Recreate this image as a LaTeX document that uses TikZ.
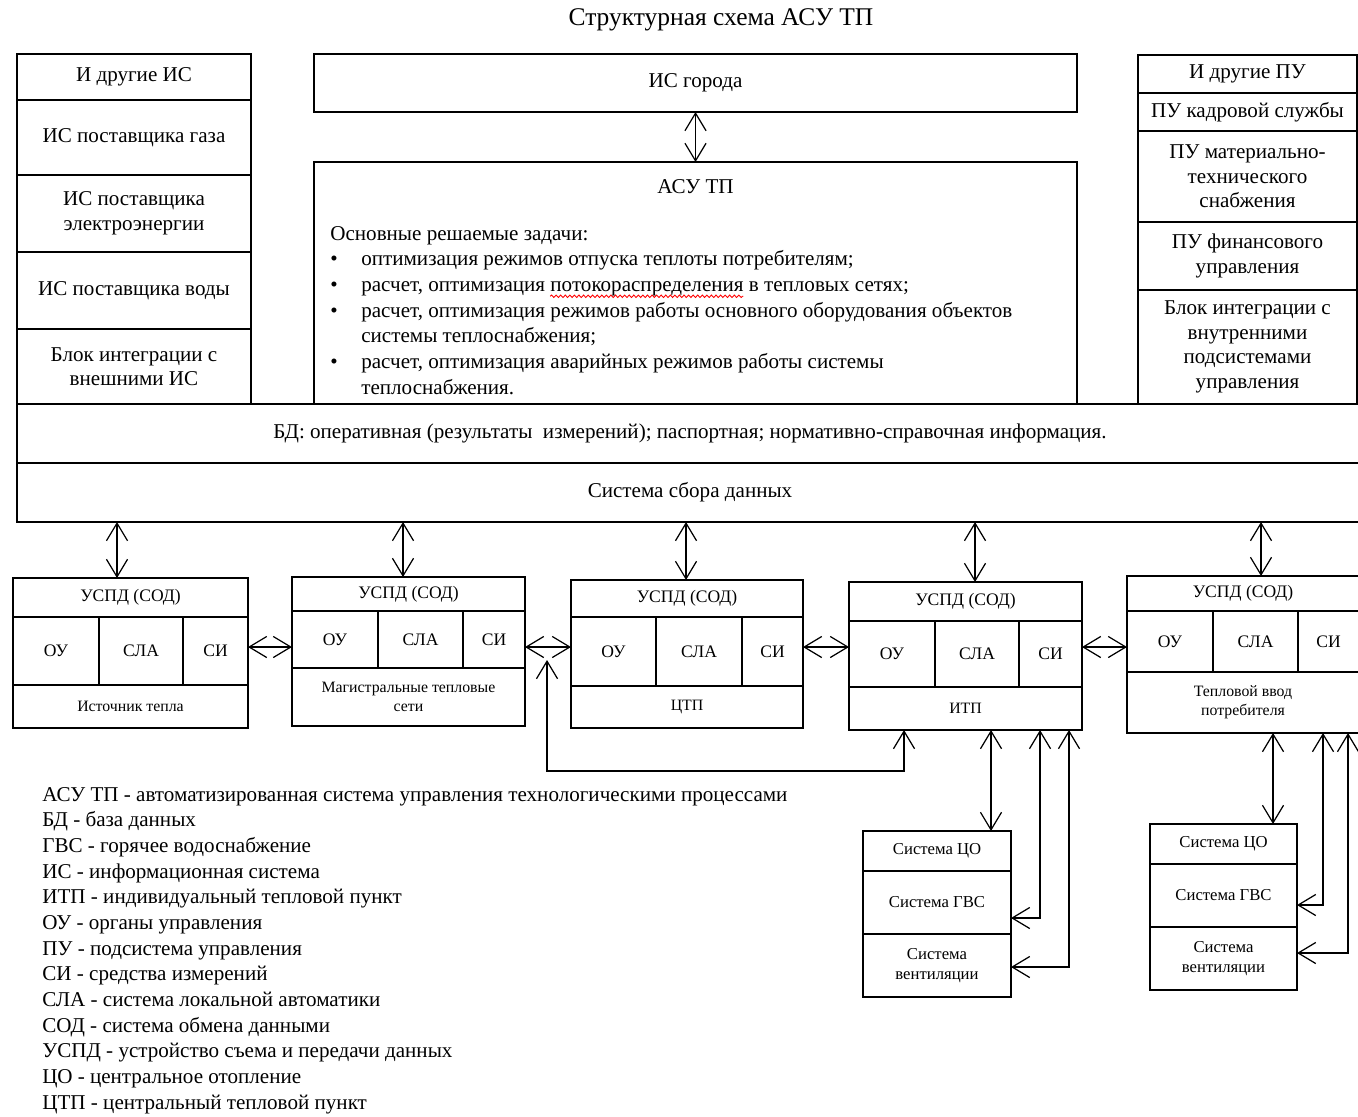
\documentclass[tikz,border=0pt]{standalone}
\usepackage{fontspec}
\setmainfont{Liberation Serif}
\usetikzlibrary{arrows.meta, decorations.pathmorphing}

\newcommand\blt{\makebox[0.62cm][l]{\textbullet}}
\newlength\wavestart
\newlength\wavelen

\tikzset{
  box/.style 2 args={draw, line width=1pt, inner sep=1pt, outer sep=0pt,
    minimum width=#1*0.02cm, minimum height=#2*0.02cm, align=center,
    font=\fontsize{12}{14}\selectfont},
  unitcell/.style 2 args={box={#1}{#2}, font=\fontsize{10}{12}\selectfont},
  unitbase/.style 2 args={box={#1}{#2}, font=\fontsize{9}{11}\selectfont},
  syscell/.style 2 args={box={#1}{#2}, font=\fontsize{9.5}{11}\selectfont},
  link/.style={<->, line width=0.7pt},
  spellwave/.style={red, line width=0.5pt, decorate,
    decoration={snake, amplitude=0.7pt, segment length=2.6pt}},
}

\begin{document}
\settowidth{\wavestart}{\fontsize{12}{14.6}\selectfont\blt расчет, оптимизация }
\settowidth{\wavelen}{\fontsize{12}{14.6}\selectfont потокораспределения}
\begin{tikzpicture}[x=0.02cm, y=-0.02cm, >={Straight Barb[length=10pt,width=12pt]}]

        \useasboundingbox (0,0) rectangle (1358,1116);
        \fill[white] (0,0) rectangle (1358,1116);
        \clip (0,0) rectangle (1358,1116);

        \node[font=\fontsize{14.5}{16}\selectfont] (title) at (721,20) {Структурная схема АСУ ТП};

        % left column
        \node[box={234}{46}] (isother) at (134,77) {И другие ИС};
        \node[box={234}{75}] (isgas) at (134,137.5) {ИС поставщика газа};
        \node[box={234}{77}] (iselec) at (134,213.5) {ИС поставщика\\электроэнергии};
        \node[box={234}{77}] (iswater) at (134,290.5) {ИС поставщика воды};
        \node[box={234}{75}] (isext) at (134,366.5) {Блок интеграции с\\внешними ИС};

        % middle
        \node[box={763}{58}] (city) at (695.5,83) {ИС города};
        \node[box={763}{242}] (asu) at (695.5,283) {};
        \node[font=\fontsize{12}{14}\selectfont] (asutitle) at (695.5,187) {АСУ ТП};
        \node[anchor=north west, align=left, inner sep=0pt,
              font=\fontsize{12}{14.6}\selectfont] (tasks) at (330,226) {Основные решаемые задачи:\\
          \blt оптимизация режимов отпуска теплоты потребителям;\\
          \blt расчет, оптимизация потокораспределения в тепловых сетях;\\
          \blt расчет, оптимизация режимов работы основного оборудования объектов\\
          \hspace*{0.62cm}системы теплоснабжения;\\
          \blt расчет, оптимизация аварийных режимов работы системы\\
          \hspace*{0.62cm}теплоснабжения.};
        \draw[spellwave] ([xshift=\wavestart, yshift=-40pt]tasks.north west) -- ++(\wavelen,0);

        % right column
        \node[box={219}{38}] (puother) at (1247.5,74) {И другие ПУ};
        \node[box={219}{38}] (pustaff) at (1247.5,112) {ПУ кадровой службы};
        \node[box={219}{91}] (pusupply) at (1247.5,176.5) {ПУ материально-\\технического\\снабжения};
        \node[box={219}{68}] (pufin) at (1247.5,256) {ПУ финансового\\управления};
        \node[box={219}{114}] (puint) at (1247.5,347) {Блок интеграции с\\внутренними\\подсистемами\\управления};

        % data base and data collection
        \node[box={1346}{59}] (bd) at (690,433.5) {БД: оперативная (результаты~ измерений); паспортная; нормативно-справочная информация.};
        \node[box={1346}{59}] (ssd) at (690,492.5) {Система сбора данных};

        % unit 1
        \node[unitcell={235}{39}] (u1usp) at (130.5,597.5) {УСПД (СОД)};
        \node[unitcell={86}{68}] (u1ou) at (56,651) {ОУ};
        \node[unitcell={84}{68}] (u1sla) at (141,651) {СЛА};
        \node[unitcell={65}{68}] (u1si) at (215.5,651) {СИ};
        \node[unitbase={235}{43}] (u1bot) at (130.5,706.5) {Источник тепла};

        % unit 2
        \node[unitcell={233}{34}] (u2usp) at (408.5,594) {УСПД (СОД)};
        \node[unitcell={86}{57}] (u2ou) at (335,639.5) {ОУ};
        \node[unitcell={85}{57}] (u2sla) at (420.5,639.5) {СЛА};
        \node[unitcell={62}{57}] (u2si) at (494,639.5) {СИ};
        \node[unitbase={233}{58}] (u2bot) at (408.5,697) {Магистральные тепловые\\сети};

        % unit 3
        \node[unitcell={232}{37}] (u3usp) at (687,598.5) {УСПД (СОД)};
        \node[unitcell={85}{69}] (u3ou) at (613.5,651.5) {ОУ};
        \node[unitcell={86}{69}] (u3sla) at (699,651.5) {СЛА};
        \node[unitcell={61}{69}] (u3si) at (772.5,651.5) {СИ};
        \node[unitbase={232}{42}] (u3bot) at (687,707) {ЦТП};

        % unit 4
        \node[unitcell={233}{39}] (u4usp) at (965.5,601.5) {УСПД (СОД)};
        \node[unitcell={86}{66}] (u4ou) at (892,654) {ОУ};
        \node[unitcell={84}{66}] (u4sla) at (977,654) {СЛА};
        \node[unitcell={63}{66}] (u4si) at (1050.5,654) {СИ};
        \node[unitbase={233}{43}] (u4bot) at (965.5,708.5) {ИТП};

        % unit 5
        \node[unitcell={232}{35}] (u5usp) at (1243,593.5) {УСПД (СОД)};
        \node[unitcell={86}{61}] (u5ou) at (1170,641.5) {ОУ};
        \node[unitcell={85}{61}] (u5sla) at (1255.5,641.5) {СЛА};
        \node[unitcell={61}{61}] (u5si) at (1328.5,641.5) {СИ};
        \node[unitbase={232}{61}] (u5bot) at (1243,702.5) {Тепловой ввод\\потребителя};

        % consumer systems
        \node[syscell={148}{40}] (s1co) at (937,851) {Система ЦО};
        \node[syscell={148}{63}] (s1gvs) at (937,902.5) {Система ГВС};
        \node[syscell={148}{63}] (s1vent) at (937,965.5) {Система\\вентиляции};
        \node[syscell={147}{40}] (s2co) at (1223.5,844) {Система ЦО};
        \node[syscell={147}{63}] (s2gvs) at (1223.5,895.5) {Система ГВС};
        \node[syscell={147}{63}] (s2vent) at (1223.5,958.5) {Система\\вентиляции};

        % connectors
        \draw[link] (city.south) -- (asu.north);

        \draw[link] (ssd.south -| 117,0) -- (u1usp.north -| 117,0);
        \draw[link] (ssd.south -| 403,0) -- (u2usp.north -| 403,0);
        \draw[link] (ssd.south -| 686,0) -- (u3usp.north -| 686,0);
        \draw[link] (ssd.south -| 975,0) -- (u4usp.north -| 975,0);
        \draw[link] (ssd.south -| 1261,0) -- (u5usp.north -| 1261,0);

        \draw[link] (u1si.east |- 0,647) -- (u2ou.west |- 0,647);
        \draw[link] (u2si.east |- 0,647) -- (u3ou.west |- 0,647);
        \draw[link] (u3si.east |- 0,647) -- (u4ou.west |- 0,647);
        \draw[link] (u4si.east |- 0,647) -- (u5ou.west |- 0,647);

        \coordinate (loopend) at (547,660);
        \coordinate (loopcorner) at (904,771);
        \draw[link] (loopend) |- (loopcorner) -- (loopcorner |- u4bot.south);

        \draw[link] (u4bot.south -| 991,0) -- (s1co.north -| 991,0);
        \draw[link] (u4bot.south -| 1040,0) |- (s1gvs.east |- 0,918);
        \draw[link] (u4bot.south -| 1069,0) |- (s1vent.east |- 0,967);

        \draw[link] (u5bot.south -| 1273,0) -- (s2co.north -| 1273,0);
        \draw[link] (u5bot.south -| 1323,0) |- (s2gvs.east |- 0,905);
        \draw[link] (u5bot.south -| 1348,0) |- (s2vent.east |- 0,953);

        % legend
        \node[anchor=north west, align=left, inner sep=0pt,
              font=\fontsize{12}{14.6}\selectfont] (legend) at (42,787) {АСУ ТП - автоматизированная система управления технологическими процессами\\
          БД - база данных\\
          ГВС - горячее водоснабжение\\
          ИС - информационная система\\
          ИТП - индивидуальный тепловой пункт\\
          ОУ - органы управления\\
          ПУ - подсистема управления\\
          СИ - средства измерений\\
          СЛА - система локальной автоматики\\
          СОД - система обмена данными\\
          УСПД - устройство съема и передачи данных\\
          ЦО - центральное отопление\\
          ЦТП - центральный тепловой пункт};

      \end{tikzpicture}
\end{document}
